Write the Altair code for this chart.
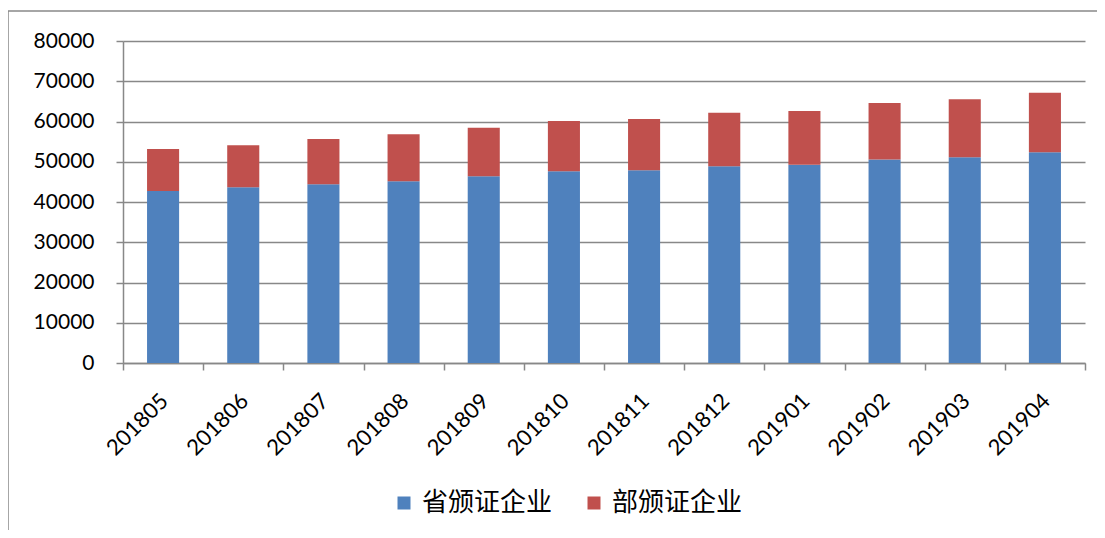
import altair as alt
import pandas as pd

months = ["201805", "201806", "201807", "201808", "201809", "201810",
          "201811", "201812", "201901", "201902", "201903", "201904"]
provincial = [42730, 43650, 44400, 45140, 46390, 47630,
              47880, 48870, 49280, 50530, 51100, 52350]
ministry = [10440, 10430, 11250, 11680, 12080, 12490,
            12740, 13330, 13330, 14070, 14410, 14810]
series_names = ["省颁证企业", "部颁证企业"]
colors = ["#4F81BD", "#C0504D"]

rows = []
for m, p, q in zip(months, provincial, ministry):
    rows.append({"month": m, "series": series_names[0], "value": p, "order": 0})
    rows.append({"month": m, "series": series_names[1], "value": q, "order": 1})
df = pd.DataFrame(rows)

font = "Lato"
cjk = "Noto Sans CJK SC"

bars = alt.Chart(df).mark_bar(width=alt.RelativeBandSize(0.4)).encode(
    x=alt.X("month:N", sort=months,
            scale=alt.Scale(paddingInner=0, paddingOuter=0),
            axis=alt.Axis(title=None, labelAngle=-45, labelFontSize=22, labelFont=font,
                          labelColor="#000000", tickBand="extent", ticks=True,
                          tickColor="#888888", tickSize=7, tickWidth=1.5,
                          domainColor="#888888", domainWidth=1.5,
                          labelPadding=20, labelOffset=-6)),
    y=alt.Y("value:Q", stack="zero",
            scale=alt.Scale(domain=[0, 80000], nice=False),
            axis=alt.Axis(title=None, values=list(range(0, 80001, 10000)), format="d",
                          labelFontSize=21, labelFont=font, labelColor="#000000",
                          tickColor="#888888", tickSize=7, tickWidth=1.5,
                          domainColor="#888888", domainWidth=1.5,
                          gridColor="#888888", gridWidth=1.5, labelPadding=22)),
    color=alt.Color("series:N", sort=series_names,
                    scale=alt.Scale(domain=series_names, range=colors),
                    legend=alt.Legend(title=None, orient="none", direction="horizontal",
                                      legendX=268, legendY=449, symbolType="square",
                                      symbolSize=169, symbolStrokeWidth=0,
                                      labelFontSize=26, labelFont=cjk,
                                      labelColor="#000000", columnPadding=28,
                                      labelOffset=5, symbolOpacity=1)),
    order=alt.Order("order:Q"),
)

frame_df = pd.DataFrame({"a": [0]})
frame_top = alt.Chart(frame_df).mark_rule(color="#888888", strokeWidth=1.5).encode(
    x=alt.value(-115), x2=alt.value(974), y=alt.value(-30))
frame_left = alt.Chart(frame_df).mark_rule(color="#888888", strokeWidth=1.5).encode(
    x=alt.value(-115), y=alt.value(-30), y2=alt.value(489))

chart = alt.layer(frame_top, frame_left, bars).properties(
    width=962, height=322,
    padding={"left": 115, "top": 33, "right": 12, "bottom": 167},
    autosize=alt.AutoSizeParams(type="none"),
).configure_view(stroke=None)

chart.save("out.html", embed_options={"renderer": "svg", "actions": False})
